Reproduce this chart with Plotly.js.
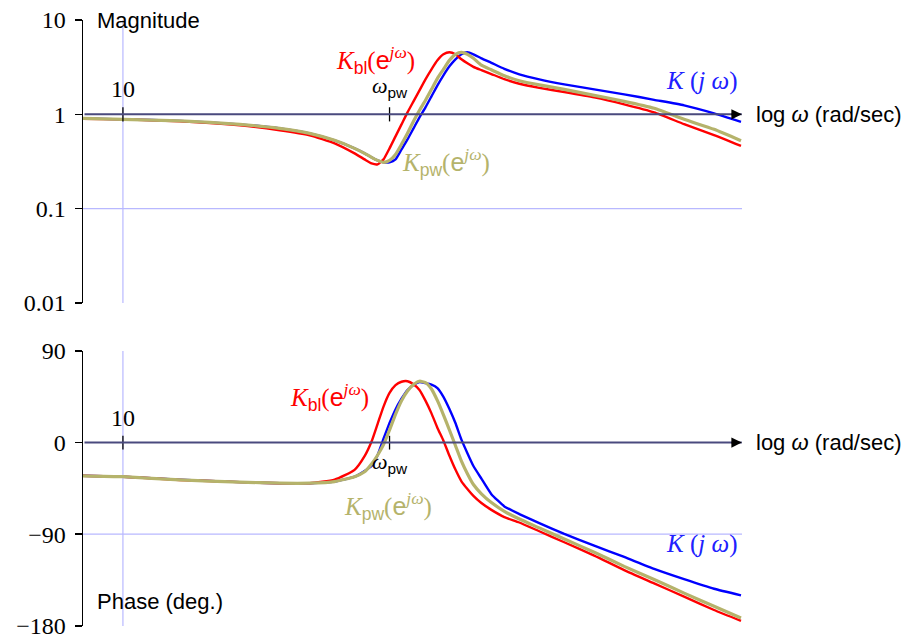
<!DOCTYPE html>
<html>
<head>
<meta charset="utf-8">
<script src="https://cdn.plot.ly/plotly-3.0.1.min.js"></script>
<style>html,body{margin:0;padding:0;background:#fff}#chart{width:914px;height:641px}</style>
</head>
<body>
<div id="chart"></div>
<script>
// frequency grid (rad/sec)
const omega = [6.31, 10, 19.28, 38.46, 60.95, 86.1, 114.8, 144.5, 162.2, 175.8, 188.4, 201.8, 216.3, 231.7, 248.3, 266.1, 285.1, 305.5, 327.3, 350.8, 375.8, 402.7, 431.5, 462.4, 495.5, 530.9, 568.9, 623.7, 699.8, 812.8, 966.1, 1216, 1622, 2291, 3236, 4571, 6457, 9120, 12445];

// magnitudes
const magK   = [0.907,0.885,0.853,0.783,0.710,0.629,0.530,0.436,0.386,0.350,0.325,0.310,0.310,0.333,0.425,0.543,0.710,0.929,1.186,1.552,2.030,2.592,3.228,3.831,4.328,4.545,4.328,3.926,3.517,3.038,2.656,2.351,2.081,1.841,1.630,1.425,1.246,1.025,0.833];
const magKbl = [0.896,0.885,0.843,0.764,0.677,0.599,0.493,0.386,0.333,0.302,0.295,0.333,0.436,0.584,0.783,1.050,1.374,1.797,2.351,3.001,3.738,4.328,4.545,4.328,3.831,3.474,3.190,2.943,2.676,2.362,2.111,1.910,1.724,1.514,1.277,1.050,0.787,0.602,0.462];
const magKpw = [0.907,0.885,0.853,0.783,0.710,0.629,0.530,0.436,0.386,0.350,0.325,0.310,0.325,0.376,0.481,0.629,0.843,1.103,1.408,1.841,2.409,3.001,3.738,4.328,4.545,4.328,3.926,3.316,2.964,2.567,2.272,2.050,1.841,1.590,1.374,1.158,0.885,0.693,0.524];

// phases (deg.)
const phK   = [-32.6,-33.5,-36.4,-38.8,-39.9,-39.9,-38.3,-33.5,-27.8,-23.0,-12.4,3.8,19.2,32.6,43.1,51.7,56.5,59.4,58.4,57.0,53.6,45.0,33.0,19.2,2.9,-10.4,-23.0,-35.4,-50.7,-62.7,-70.2,-79.2,-89.7,-101.3,-112.4,-124.1,-134.2,-143.6,-150.1];
const phKbl = [-32.6,-33.5,-36.7,-38.8,-39.9,-39.9,-36.4,-26.8,-13.4,1.0,18.2,35.4,48.8,56.5,59.8,60.3,57.4,51.7,41.2,28.7,14.4,1.9,-12.9,-26.5,-38.0,-45.6,-52.4,-59.4,-66.1,-73.2,-78.5,-87.1,-97.9,-111.0,-125.3,-138.3,-151.4,-164.5,-175.2];
const phKpw = [-32.6,-33.5,-36.7,-38.8,-39.9,-39.9,-38.3,-33.5,-28.7,-21.1,-12.4,-1.9,12.4,27.8,41.2,50.7,57.0,60.3,58.9,52.7,41.2,27.3,12.4,-2.9,-18.2,-30.6,-41.2,-50.3,-58.9,-67.5,-75.1,-83.8,-94.8,-107.7,-121.6,-134.5,-147.9,-160.8,-172.3];

// ticks
const magTickVals = [0.01, 0.1, 1, 10];
const magTickText = ['0.01', '0.1', '1', '10'];
const phTickVals = [-180, -90, 0, 90];
const phTickText = ['\u2212180', '\u221290', '0', '90'];
const omegaMarks = [10, 216.3];
const magGrid = 0.1, phGrid = -90;
const omegaRange = [6.31, 12590];

const C_K = '#0000ff', C_BL = '#ff0000', C_PW = '#b5b36b', C_AX = '#4a4a7e', C_GRID = '#b8b8ff';
const SERIF = 'Liberation Serif', SANS = 'Liberation Sans';
const L = Math.log10;

const traces = [
  {x: omega, y: magK,   xaxis:'x',  yaxis:'y',  mode:'lines', line:{color:C_K,  width:2.4, shape:'spline', smoothing:0.5}},
  {x: omega, y: magKbl, xaxis:'x',  yaxis:'y',  mode:'lines', line:{color:C_BL, width:2.4, shape:'spline', smoothing:0.5}},
  {x: omega, y: magKpw, xaxis:'x',  yaxis:'y',  mode:'lines', line:{color:C_PW, width:3.2, shape:'spline', smoothing:0.5}},
  {x: omega, y: phK,    xaxis:'x2', yaxis:'y2', mode:'lines', line:{color:C_K,  width:2.4, shape:'spline', smoothing:0.4}},
  {x: omega, y: phKbl,  xaxis:'x2', yaxis:'y2', mode:'lines', line:{color:C_BL, width:2.4, shape:'spline', smoothing:0.5}},
  {x: omega, y: phKpw,  xaxis:'x2', yaxis:'y2', mode:'lines', line:{color:C_PW, width:3.2, shape:'spline', smoothing:0.5}}
];

const xr = [L(omegaRange[0]), L(omegaRange[1])];
const yAxisCommon = {
  ticks:'outside', ticklen:7, tickwidth:1.5, tickcolor:'#000', showline:true, linecolor:'#000', linewidth:1.5,
  showgrid:false, zeroline:false, tickfont:{family:SERIF, size:24, color:'#000'}, ticklabelstandoff:4,
  ticklabeloverflow:'allow', fixedrange:true
};

const shapes = [];
[['x','y'],['x2','y2']].forEach(([xa, ya], i) => {
  // vertical grid at omega = 10
  shapes.push({type:'line', layer:'below', xref:xa, yref:ya+' domain', x0:10, x1:10, y0:0, y1:1, line:{color:C_GRID, width:1.2}});
  // horizontal grid
  const gy = i === 0 ? magGrid : phGrid;
  shapes.push({type:'line', layer:'below', xref:xa+' domain', yref:ya, x0:0, x1:1, y0:gy, y1:gy, line:{color:C_GRID, width:1.2}});
  // tick marks on the frequency axis
  omegaMarks.forEach(w => {
    shapes.push({type:'line', xref:xa, yref:ya+' domain', x0:w, x1:w, y0:2/3-0.025, y1:2/3+0.025, line:{color:'#000', width:1.3}});
  });
});

const mathFont = (c) => ({family:SERIF, size:25, color:c});
const sans = (t) => '<span style="font-family:' + SANS + '">' + t + '</span>';
const Kbl = '<i>K</i><sub>' + sans('bl') + '</sub>(' + sans('e') + '<sup><i>jω</i></sup>)';
const Kpw = '<i>K</i><sub>' + sans('pw') + '</sub>(' + sans('e') + '<sup><i>jω</i></sup>)';
const Kc = '<i>K</i> (<i>j</i> <i>ω</i>)';
const wpw = '<i>ω</i><sub>' + sans('pw') + '</sub>';
const logw = sans('log ') + '<i>ω</i>' + sans(' (rad/sec)');

const annotations = [];
[['x','y'],['x2','y2']].forEach(([xa, ya]) => {
  annotations.push({xref:xa, yref:ya, axref:xa, ayref:ya, x:xr[1]-0.001, y:0, ax:xr[0], ay:0, text:'', showarrow:true, arrowhead:0, arrowwidth:2, arrowcolor:C_AX, standoff:0});
  annotations.push({xref:xa, yref:ya, axref:xa, ayref:ya, x:xr[1]-0.001, y:0, ax:xr[1]-0.06, ay:0, text:'', showarrow:true, arrowhead:2, arrowsize:1.3, arrowwidth:1.6, arrowcolor:'#000', standoff:0});
  annotations.push({xref:'paper', yref:ya, x:1.018, y:0, xanchor:'left', yanchor:'middle', text:logw, showarrow:false, font:{family:SANS, size:22, color:'#000'}});
  annotations.push({xref:xa, yref:ya, x:L(10), y:0, yshift:25, text:'10', showarrow:false, font:{family:SERIF, size:24, color:'#000'}});
});
annotations.push({xref:'x', yref:'y', x:L(216.3), y:0, yshift:27, text:wpw, showarrow:false, font:{family:SERIF, size:22, color:'#000'}});
annotations.push({xref:'x2', yref:'y2', x:L(216.3), y:0, yshift:-20, text:wpw, showarrow:false, font:{family:SERIF, size:22, color:'#000'}});
annotations.push({xref:'x', yref:'y', x:0.86, y:1, xanchor:'left', yanchor:'middle', text:'Magnitude', showarrow:false, font:{family:SANS, size:22, color:'#000'}});
annotations.push({xref:'x2', yref:'y2', x:0.86, y:-156, xanchor:'left', yanchor:'middle', text:'Phase (deg.)', showarrow:false, font:{family:SANS, size:22, color:'#000'}});
// curve labels
annotations.push({xref:'x', yref:'y', x:2.265, y:0.575, text:Kbl, showarrow:false, font:mathFont(C_BL)});
annotations.push({xref:'x', yref:'y', x:4.085, y:0.35, xanchor:'right', text:Kc, showarrow:false, font:mathFont('#2020ff')});
annotations.push({xref:'x', yref:'y', x:2.385, y:-0.509, xanchor:'left', text:Kpw, showarrow:false, font:mathFont(C_PW)});
annotations.push({xref:'x2', yref:'y2', x:2.035, y:45, text:Kbl, showarrow:false, font:mathFont(C_BL)});
annotations.push({xref:'x2', yref:'y2', x:2.325, y:-62, text:Kpw, showarrow:false, font:mathFont(C_PW)});
annotations.push({xref:'x2', yref:'y2', x:4.085, y:-100, xanchor:'right', text:Kc, showarrow:false, font:mathFont('#2020ff')});

const layout = {
  width:914, height:641, margin:{l:83, r:172, t:20, b:15}, showlegend:false,
  paper_bgcolor:'#fff', plot_bgcolor:'#fff',
  xaxis:{type:'log', range:xr, visible:false, anchor:'y', domain:[0,1], fixedrange:true},
  yaxis:Object.assign({type:'log', range:[-2,1], domain:[0.533,1], anchor:'x', tickvals:magTickVals, ticktext:magTickText}, yAxisCommon),
  xaxis2:{type:'log', range:xr, visible:false, anchor:'y2', domain:[0,1], fixedrange:true},
  yaxis2:Object.assign({range:[-180.2,90], domain:[0,0.4538], anchor:'x2', tickvals:phTickVals, ticktext:phTickText}, yAxisCommon),
  shapes:shapes, annotations:annotations
};

Plotly.newPlot('chart', traces, layout, {displayModeBar:false, staticPlot:true});
</script>
</body>
</html>
